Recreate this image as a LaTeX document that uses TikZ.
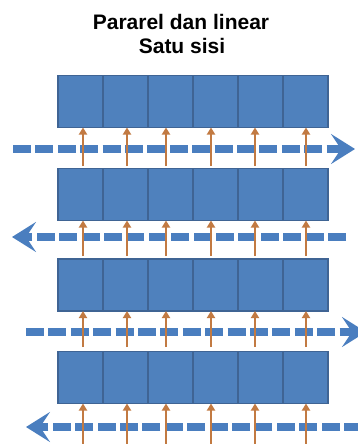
\documentclass[tikz,border=0pt]{standalone}
\usepackage{fontspec}
\setmainfont{Liberation Sans}
\usetikzlibrary{arrows.meta}
\definecolor{cellblue}{HTML}{4F81BD}
\definecolor{celledge}{HTML}{3F6494}
\definecolor{flowblue}{HTML}{4A7EBF}
\definecolor{feedorange}{HTML}{C27A42}
\begin{document}
\begin{tikzpicture}[x=1pt,y=-1pt,
  cell/.style={draw=celledge, line width=1.8pt, fill=cellblue, minimum width=45pt, minimum height=52pt, inner sep=0pt, outer sep=0pt},
  flow/.style={draw=flowblue, line width=8pt, dash pattern=on 18pt off 4.4pt, -{Stealth[length=24pt,width=30pt,inset=10pt]}},
  feed/.style={draw=feedorange, line width=2.3pt, -{Triangle[length=7pt,width=8pt]}},
  titletext/.style={font=\fontsize{21}{24}\selectfont\bfseries, inner sep=0pt, anchor=base}]
\useasboundingbox (0,0) rectangle (357,444);
\node[titletext] (t1) at (181,30) {Pararel dan linear};
\node[titletext] (t2) at (182,54) {Satu sisi};
% rows of cells
\foreach \r/\y in {1/101.5, 2/194.5, 3/285, 4/377.5}{
  \foreach \c in {1,...,6}{
    \node[cell] (r\r c\c) at ({58+22.5+45*(\c-1)},\y) {};
  }
}
% flow arrow end points
\coordinate (f1s) at (13,149);  \coordinate (f1e) at (355,149);
\coordinate (f2s) at (346,237); \coordinate (f2e) at (12,237);
\coordinate (f3s) at (26,332);  \coordinate (f3e) at (366,332);
\coordinate (f4s) at (362,427); \coordinate (f4e) at (26,427);
\foreach \i in {1,...,4}{ \draw[flow] (f\i s) -- (f\i e); }
% feed arrows
\foreach \c/\x in {1/83, 2/127, 3/166, 4/211, 5/255, 6/306}{
  \coordinate (a1\c) at (\x,166);
  \coordinate (a2\c) at (\x,256);
  \coordinate (a3\c) at (\x,347);
  \coordinate (a4\c) at (\x,446);
  \foreach \r in {1,...,4}{
    \draw[feed] (a\r\c) -- (a\r\c |- r\r c\c.south);
  }
}
\end{tikzpicture}
\end{document}
